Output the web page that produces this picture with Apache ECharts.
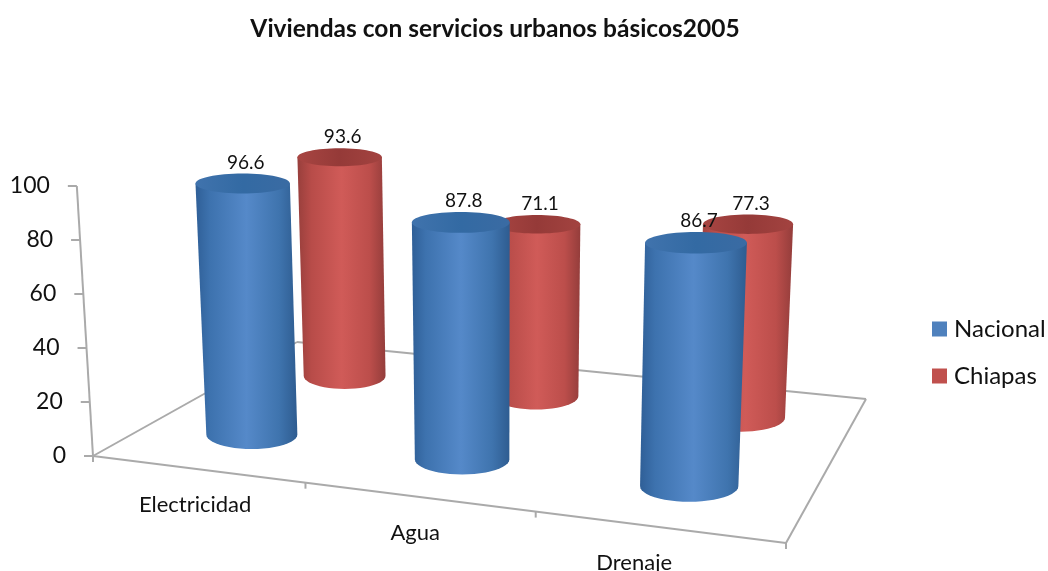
<!DOCTYPE html>
<html>
<head>
<meta charset="utf-8">
<script src="https://cdn.jsdelivr.net/npm/echarts@6/dist/echarts.min.js"></script>
<style>
  html, body { margin: 0; padding: 0; background: #fff; }
  #main { width: 1048px; height: 571px; }
</style>
</head>
<body>
<div id="main"></div>
<script>
const categories = ['Electricidad', 'Agua', 'Drenaje']
const nacional = [96.6, 87.8, 86.7]
const chiapas = [93.6, 71.1, 77.3]
const yTicks = [0, 20, 40, 60, 80, 100]
const titleText = 'Viviendas con servicios urbanos básicos2005'

// floor of the 3d box in pixels: front left, front right, back right, back left
const floor = [[93, 456], [786, 543], [866, 399], [297, 342]]
const catLabelShift = [-2, -3, -24]
const fontFamily = 'Lato, "Open Sans", sans-serif'
const vanishX = 500
const vanishDist = 6800

// square to quad homography
const dx1 = floor[1][0] - floor[2][0], dx2 = floor[3][0] - floor[2][0]
const sx = floor[0][0] - floor[1][0] + floor[2][0] - floor[3][0]
const dy1 = floor[1][1] - floor[2][1], dy2 = floor[3][1] - floor[2][1]
const sy = floor[0][1] - floor[1][1] + floor[2][1] - floor[3][1]
const det = dx1 * dy2 - dx2 * dy1
const hg = (sx * dy2 - dx2 * sy) / det
const hh = (dx1 * sy - sx * dy1) / det

function project (u, v) {
  const w = 1 + hg * u + hh * v
  const x = (floor[1][0] - floor[0][0] + hg * floor[1][0]) * u + (floor[3][0] - floor[0][0] + hh * floor[3][0]) * v + floor[0][0]
  const y = (floor[1][1] - floor[0][1] + hg * floor[1][1]) * u + (floor[3][1] - floor[0][1] + hh * floor[3][1]) * v + floor[0][1]
  return { x: x / w, y: y / w, w: w }
}

function hGrad (stops) {
  return new echarts.graphic.LinearGradient(0, 0, 1, 0, stops.map((c, i) => ({ offset: c[0], color: c[1] })))
}

const skins = {
  blue: {
    body: [[0, '#2f5f97'], [0.14, '#3d72ae'], [0.5, '#5589c9'], [0.82, '#3f74ae'], [1, '#2e5c90']],
    top: [[0, '#4073ad'], [0.5, '#336aa3'], [1, '#3a6ba3']]
  },
  red: {
    body: [[0, '#983f3c'], [0.16, '#b84c49'], [0.5, '#d05b58'], [0.82, '#bc4e4b'], [1, '#943d3b']],
    top: [[0, '#a84542'], [0.5, '#953a38'], [1, '#a34340']]
  }
}

function cylinderItem (skin, depth) {
  return function (params, api) {
    const c = api.value(0)
    const val = api.value(1)
    const sys = params.coordSys
    const u = (api.coord([c, 0])[0] - sys.x) / sys.width
    const base = project(u, depth)
    const unit = api.size([0, 1])[1]
    const h = val * unit / base.w
    const rx = 47.3 / base.w
    const grow = h / vanishDist
    const topX = base.x + (base.x - vanishX) * grow
    const topY = base.y - h
    const topRx = rx * (1 + grow)
    const botRy = rx * 0.32
    const topRy = rx * 0.22
    const points = [[topX - topRx, topY], [topX + topRx, topY]]
    for (let i = 0; i <= 24; i++) {
      const a = Math.PI * i / 24
      points.push([base.x + rx * Math.cos(a), base.y + botRy * Math.sin(a)])
    }
    return {
      type: 'group',
      children: [
        { type: 'polygon', shape: { points: points }, style: { fill: hGrad(skin.body) } },
        { type: 'ellipse', shape: { cx: topX, cy: topY, rx: topRx, ry: topRy }, style: { fill: hGrad(skin.top) } },
        {
          type: 'text',
          x: topX + 3,
          y: topY - topRy - 11,
          style: {
            text: String(val),
            fill: '#111',
            font: '19px ' + fontFamily,
            align: 'center',
            verticalAlign: 'middle'
          }
        }
      ]
    }
  }
}

// axis, floor outline, ticks and labels
function frameItem (params, api) {
  const children = []
  const line = { stroke: '#aaaaaa', lineWidth: 2 }
  const addLine = (a, b) => children.push({
    type: 'line',
    shape: { x1: a[0], y1: a[1], x2: b[0], y2: b[1] },
    style: line
  })
  addLine(floor[0], floor[1])
  addLine(floor[1], floor[2])
  addLine(floor[2], floor[3])
  addLine(floor[3], floor[0])
  const zeroY = api.coord([0, 0])[1]
  const axisX = floor[0][0]
  const xAt = t => {
    const y = api.coord([0, t])[1]
    return axisX + (axisX - vanishX) * (zeroY - y) / vanishDist
  }
  addLine([axisX, zeroY], [xAt(yTicks[yTicks.length - 1]), api.coord([0, yTicks[yTicks.length - 1]])[1]])
  yTicks.forEach(t => {
    const y = api.coord([0, t])[1]
    const x = xAt(t)
    addLine([x, y], [x - 9, y])
    children.push({
      type: 'text',
      x: x - 27,
      y: y,
      style: { text: String(t), fill: '#111', font: '23px ' + fontFamily, align: 'right', verticalAlign: 'middle' }
    })
  })
  const n = categories.length
  for (let i = 0; i <= n; i++) {
    const p = project(i / n, 0)
    addLine([p.x, p.y], [p.x, p.y + 6])
  }
  categories.forEach((name, i) => {
    const p = project((i + 0.5) / n, 0)
    children.push({
      type: 'text',
      x: p.x + catLabelShift[i],
      y: p.y + 36,
      style: { text: name, fill: '#111', font: '22px ' + fontFamily, align: 'center', verticalAlign: 'middle' }
    })
  })
  return { type: 'group', children: children }
}

const chart = echarts.init(document.getElementById('main'))
chart.setOption({
  animation: false,
  title: {
    text: titleText,
    left: 490,
    top: 12,
    textAlign: 'center',
    textStyle: { fontFamily: fontFamily, fontSize: 24.5, fontWeight: 'bold', color: '#111' }
  },
  legend: {
    orient: 'vertical',
    left: 927,
    top: 312,
    selectedMode: false,
    icon: 'rect',
    itemWidth: 15,
    itemHeight: 15,
    itemGap: 23,
    data: ['Nacional', 'Chiapas'],
    textStyle: { fontFamily: fontFamily, fontSize: 24, color: '#111', padding: [0, 0, 0, 2] }
  },
  grid: { left: floor[0][0], top: 186, width: floor[1][0] - floor[0][0], height: 270 },
  xAxis: { type: 'category', data: categories, show: false },
  yAxis: { type: 'value', min: 0, max: 100, interval: 20, show: false },
  series: [
    {
      type: 'custom',
      name: 'frame',
      renderItem: frameItem,
      data: [[0, 0]],
      silent: true,
      z: 1
    },
    {
      type: 'custom',
      name: 'Chiapas',
      renderItem: cylinderItem(skins.red, 0.75),
      data: chiapas.map((v, i) => [i, v]),
      itemStyle: { color: '#c0504d' },
      z: 2
    },
    {
      type: 'custom',
      name: 'Nacional',
      renderItem: cylinderItem(skins.blue, 0.25),
      data: nacional.map((v, i) => [i, v]),
      itemStyle: { color: '#4f81bd' },
      z: 3
    }
  ]
})
</script>
</body>
</html>
